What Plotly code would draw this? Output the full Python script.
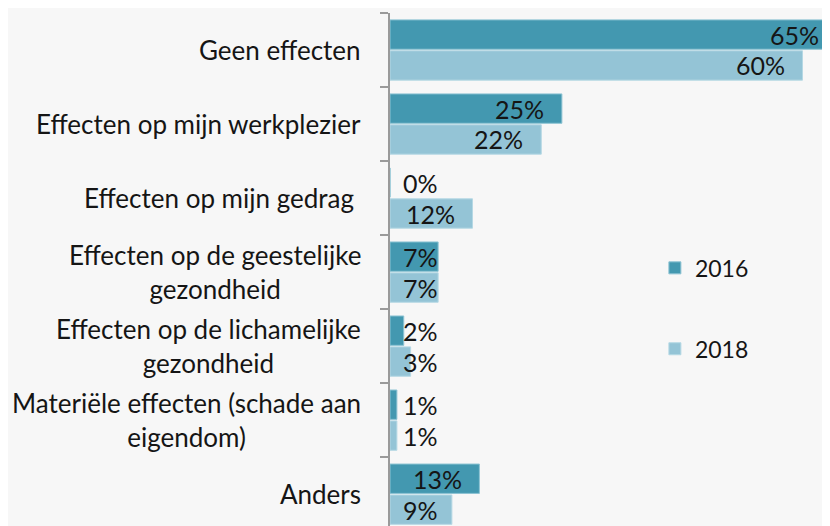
import plotly.graph_objects as go

categories = [
    "Geen effecten",
    "Effecten op mijn werkplezier",
    "Effecten op mijn gedrag ",
    "Effecten op de geestelijke<br>gezondheid",
    "Effecten op de lichamelijke<br>gezondheid",
    "Materiële effecten (schade aan<br>eigendom)",
    "Anders",
]
values_2016 = [65, 25, 0, 7, 2, 1, 13]
values_2018 = [60, 22, 12, 7, 3, 1, 9]
series_names = ["2016", "2018"]

COL_2016 = "#4398B0"
COL_2018 = "#94C4D6"
FONT = "Lato"
TXT = "#151515"

idx = list(range(len(categories)))
BARGAP = 0.165
slot = (1 - BARGAP) / 2
off = slot / 2

fig = go.Figure()
fig.add_trace(go.Bar(
    name=series_names[0], y=idx, x=values_2016, orientation="h",
    marker=dict(color=COL_2016, line=dict(color="#8CC3D3", width=1)),
    legendgroup="a",
))
fig.add_trace(go.Bar(
    name=series_names[1], y=idx, x=values_2018, orientation="h",
    marker=dict(color=COL_2018, line=dict(color="#B5D8E4", width=1)),
    legendgroup="b",
))

annotations = []
# category labels
for i, c in enumerate(categories):
    annotations.append(dict(
        x=-0.061, xref="paper", y=i, yref="y", text=c, showarrow=False,
        xanchor="right", yanchor="middle", align="center",
        font=dict(family=FONT, size=26, color=TXT),
    ))
# value labels
for vals, sign in ((values_2016, -1), (values_2018, 1)):
    for i, v in enumerate(vals):
        xr = max(v - 2.3, 7.3)
        annotations.append(dict(
            x=xr, xref="x", y=i + sign * off, yref="y", text=f"{v}%",
            showarrow=False, xanchor="right", yanchor="middle",
            font=dict(family=FONT, size=25, color=TXT),
        ))

fig.update_layout(
    width=822, height=518,
    margin=dict(l=382, r=0, t=5, b=0),
    barmode="group", bargap=BARGAP, bargroupgap=0.05,
    paper_bgcolor="#f7f7f7", plot_bgcolor="rgba(0,0,0,0)",
    showlegend=True,
    legend=dict(
        x=0.602, xanchor="left", y=0.545, yanchor="top",
        traceorder="grouped", tracegroupgap=48,
        font=dict(family=FONT, size=23, color=TXT),
        bgcolor="rgba(0,0,0,0)",
    ),
    annotations=annotations,
    xaxis=dict(range=[0, 64], visible=False, fixedrange=True),
    yaxis=dict(
        range=[6.43, -0.5], showgrid=False, zeroline=False,
        showline=True, linecolor="#9a9a9a", linewidth=2,
        tickvals=[i - 0.5 for i in range(len(categories) + 1)],
        ticktext=[""] * (len(categories) + 1),
        ticks="outside", ticklen=8, tickwidth=2, tickcolor="#9a9a9a",
    ),
)

fig.write_html("out.html")
